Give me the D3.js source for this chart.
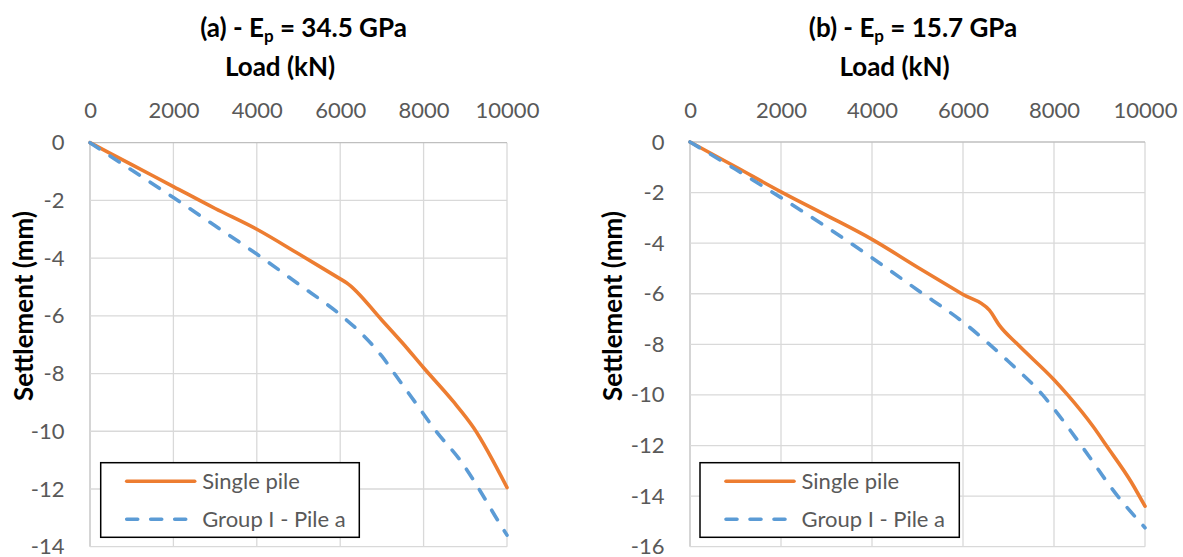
<!DOCTYPE html>
<html>
<head>
<meta charset="utf-8">
<script src="https://cdn.jsdelivr.net/npm/d3@7"></script>
<style>
  html, body { margin: 0; padding: 0; background: #fff; }
  svg { display: block; }
  text { font-family: Lato, "Open Sans", "Liberation Sans", sans-serif; }
</style>
</head>
<body>
<svg id="chart" width="1183" height="557"></svg>
<script>
// ---------- DATA ----------
const loadTicks = [0, 2000, 4000, 6000, 8000, 10000];
const settTicksA = [0, -2, -4, -6, -8, -10, -12, -14];
const settTicksB = [0, -2, -4, -6, -8, -10, -12, -14, -16];

const seriesNames = ["Single pile", "Group I - Pile a"];

// Panel (a) Ep = 34.5 GPa
const singleLoadA = [0, 1000, 2000, 3000, 4000, 5000, 6000, 6150, 7000, 7500, 8000, 8700, 9200, 10000];
const singleSettA = [0, -0.76, -1.52, -2.28, -3.0, -3.85, -4.72, -4.85, -6.15, -6.95, -7.8, -8.95, -9.88, -11.95];
const groupLoadA = [0, 1000, 2000, 3000, 4000, 5000, 6000, 6500, 7000, 7300, 7800, 8300, 8900, 9350, 9700, 10000];
const groupSettA = [0, -0.95, -1.9, -2.88, -3.86, -4.9, -5.96, -6.6, -7.4, -8.0, -9.0, -10.0, -11.05, -12.05, -12.9, -13.6];

// Panel (b) Ep = 15.7 GPa
const singleLoadB = [0, 1000, 2000, 3000, 4000, 5000, 6000, 6580, 6800, 7200, 8000, 8300, 8860, 9150, 9700, 10000];
const singleSettB = [0, -0.98, -1.97, -2.9, -3.85, -4.95, -6.03, -6.65, -7.25, -8.0, -9.4, -10.0, -11.25, -12.0, -13.45, -14.4];
const groupLoadB = [0, 1000, 2000, 3000, 4000, 5000, 6000, 7000, 7750, 8000, 8600, 9400, 10000];
const groupSettB = [0, -1.08, -2.2, -3.36, -4.58, -5.85, -7.12, -8.68, -10.0, -10.55, -12.0, -14.0, -15.25];

// ---------- LAYOUT ----------
const panels = [
  { label: "(a) - E", sub: "p", rest: " = 34.5 GPa",
    x0: 90, x1: 507, y0: 142.7, y1: 546.7, yMin: -14, yTicks: settTicksA,
    titleX: 303.5, loadX: 280, yLabX: 33, yLabY: 306,
    legend: { x: 100.7, y: 462.7, w: 258.6, h: 74.6 },
    series: [ { x: singleLoadA, y: singleSettA }, { x: groupLoadA, y: groupSettA } ] },
  { label: "(b) - E", sub: "p", rest: " = 15.7 GPa",
    x0: 690, x1: 1145, y0: 142, y1: 546.7, yMin: -16, yTicks: settTicksB,
    titleX: 913, loadX: 894.5, yLabX: 622, yLabY: 306,
    legend: { x: 700, y: 462.7, w: 259.3, h: 74.6 },
    series: [ { x: singleLoadB, y: singleSettB }, { x: groupLoadB, y: groupSettB } ] }
];

const colors = ["#ED7D31", "#5B9BD5"];
const dashes = [null, "11,13"];
const fmt = d => String(d);

const svg = d3.select("#chart");

panels.forEach(p => {
  const x = d3.scaleLinear().domain([0, 10000]).range([p.x0, p.x1]);
  const y = d3.scaleLinear().domain([0, p.yMin]).range([p.y0, p.y1]);
  const g = svg.append("g");

  // gridlines
  g.selectAll(".vg").data(loadTicks).enter().append("line")
    .attr("x1", d => x(d)).attr("x2", d => x(d))
    .attr("y1", p.y0).attr("y2", p.y1)
    .attr("stroke", d => d === 0 ? "#bfbfbf" : "#d9d9d9").attr("stroke-width", 1.3);
  g.selectAll(".hg").data(p.yTicks).enter().append("line")
    .attr("x1", p.x0).attr("x2", p.x1)
    .attr("y1", d => y(d)).attr("y2", d => y(d))
    .attr("stroke", d => d === 0 ? "#bfbfbf" : "#d9d9d9").attr("stroke-width", 1.3);

  // axes
  const xa = g.append("g").attr("transform", `translate(0,${p.y0})`)
    .call(d3.axisTop(x).tickValues(loadTicks).tickSize(0).tickPadding(24.5).tickFormat(fmt));
  xa.select(".domain").remove();
  xa.selectAll("text").attr("fill", "#595959").style("font-size", "22px");

  const ya = g.append("g").attr("transform", `translate(${p.x0},0)`)
    .call(d3.axisLeft(y).tickValues(p.yTicks).tickSize(0).tickPadding(25.5).tickFormat(fmt));
  ya.select(".domain").remove();
  ya.selectAll("text").attr("fill", "#595959").style("font-size", "22px");

  // lines
  p.series.forEach((s, i) => {
    const pts = s.x.map((v, k) => [v, s.y[k]]);
    const line = d3.line().x(d => x(d[0])).y(d => y(d[1])).curve(d3.curveMonotoneX);
    g.append("path").attr("d", line(pts))
      .attr("fill", "none").attr("stroke", colors[i]).attr("stroke-width", 3.6)
      .attr("stroke-linecap", "round").attr("stroke-linejoin", "round")
      .attr("stroke-dasharray", dashes[i]);
  });

  // titles
  const t = g.append("text").attr("x", p.titleX).attr("y", 37)
    .attr("text-anchor", "middle").style("font-size", "26px").style("font-weight", "bold").attr("fill", "#000");
  t.append("tspan").text(p.label);
  t.append("tspan").text(p.sub).style("font-size", "17px").attr("dy", 5);
  t.append("tspan").text(p.rest).attr("dy", -5);

  g.append("text").attr("x", p.loadX).attr("y", 76).attr("text-anchor", "middle")
    .style("font-size", "26px").style("font-weight", "bold").attr("fill", "#000").text("Load (kN)");

  g.append("text").attr("transform", `translate(${p.yLabX},${p.yLabY}) rotate(-90)`)
    .attr("text-anchor", "middle").style("font-size", "26px").style("font-weight", "bold")
    .attr("fill", "#000").text("Settlement (mm)");

  // legend
  const L = p.legend;
  const lg = g.append("g");
  lg.append("rect").attr("x", L.x).attr("y", L.y).attr("width", L.w).attr("height", L.h)
    .attr("fill", "#fff").attr("stroke", "#000").attr("stroke-width", 1.5);
  seriesNames.forEach((name, i) => {
    const cy = L.y + 18.5 + i * 38;
    lg.append("line").attr("x1", L.x + 26).attr("x2", L.x + 94)
      .attr("y1", cy).attr("y2", cy)
      .attr("stroke", colors[i]).attr("stroke-width", 3.6).attr("stroke-linecap", "round")
      .attr("stroke-dasharray", dashes[i]);
    lg.append("text").attr("x", L.x + 101.5).attr("y", cy).attr("dy", "0.36em")
      .style("font-size", "22px").attr("fill", "#595959").text(name);
  });
});
</script>
</body>
</html>
